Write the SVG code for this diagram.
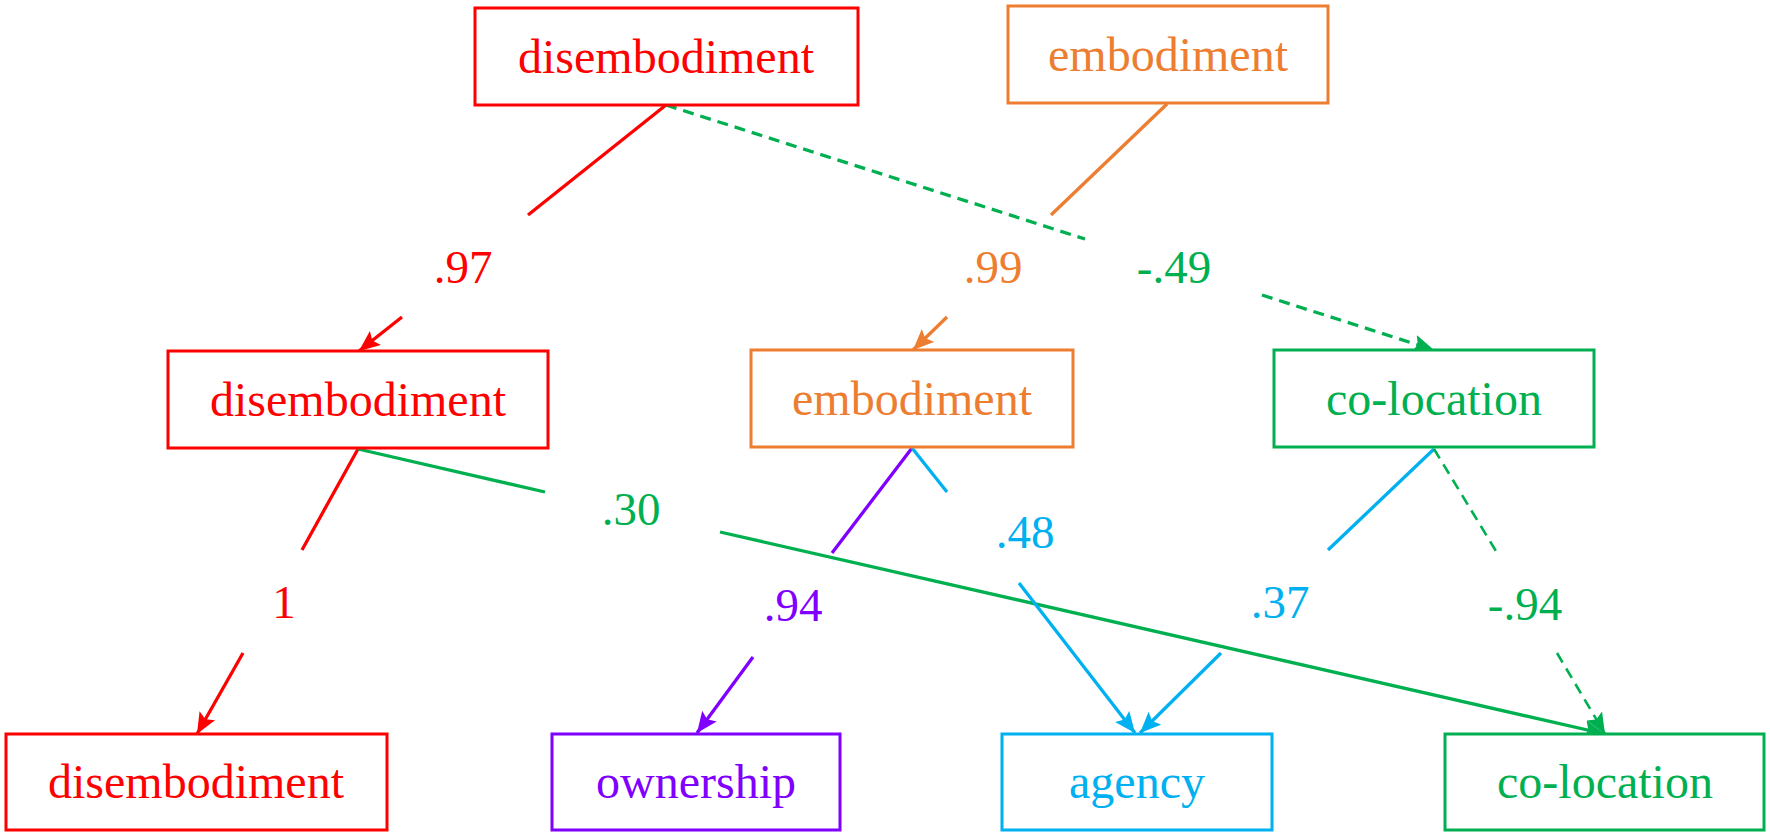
<svg xmlns="http://www.w3.org/2000/svg" width="1770" height="838" viewBox="0 0 1770 838">
<style>
text{font-family:"Liberation Serif","Times New Roman",serif;text-anchor:middle}
.n{font-size:48px}
.l{font-size:47px}
rect{fill:#fff;stroke-width:3}
line{stroke-width:3.3;fill:none}
.d{stroke-dasharray:11 7}
.red{stroke:#FF0000}.tred{fill:#FF0000}
.or{stroke:#ED7D31}.tor{fill:#ED7D31}
.gr{stroke:#00B050}.tgr{fill:#00B050}
.bl{stroke:#00B0F0}.tbl{fill:#00B0F0}
.pu{stroke:#7F00FF}.tpu{fill:#7F00FF}
</style>
<defs>
<marker id="aR" markerUnits="userSpaceOnUse" markerWidth="24" markerHeight="20" refX="21" refY="9" orient="auto"><path d="M0,0 L21,9 L0,18 L4,9 Z" fill="#FF0000"/></marker>
<marker id="aO" markerUnits="userSpaceOnUse" markerWidth="24" markerHeight="20" refX="21" refY="9" orient="auto"><path d="M0,0 L21,9 L0,18 L4,9 Z" fill="#ED7D31"/></marker>
<marker id="aG" markerUnits="userSpaceOnUse" markerWidth="24" markerHeight="20" refX="21" refY="9" orient="auto"><path d="M0,0 L21,9 L0,18 L4,9 Z" fill="#00B050"/></marker>
<marker id="aB" markerUnits="userSpaceOnUse" markerWidth="24" markerHeight="20" refX="21" refY="9" orient="auto"><path d="M0,0 L21,9 L0,18 L4,9 Z" fill="#00B0F0"/></marker>
<marker id="aP" markerUnits="userSpaceOnUse" markerWidth="24" markerHeight="20" refX="21" refY="9" orient="auto"><path d="M0,0 L21,9 L0,18 L4,9 Z" fill="#7F00FF"/></marker>
</defs>
<rect x="0" y="0" width="1770" height="838" style="stroke:none"/>
<g id="connectors">
<line class="red" x1="666" y1="105" x2="528" y2="215"/>
<line class="red" x1="402" y1="317" x2="359" y2="351" marker-end="url(#aR)"/>
<line class="gr d" x1="666" y1="105" x2="1085" y2="239"/>
<line class="gr d" x1="1262" y1="295" x2="1434" y2="350" marker-end="url(#aG)"/>
<line class="or" x1="1167" y1="104" x2="1051" y2="215"/>
<line class="or" x1="947" y1="317" x2="913" y2="350" marker-end="url(#aO)"/>
<line class="red" x1="358" y1="449" x2="302" y2="550"/>
<line class="red" x1="243" y1="653" x2="197" y2="734" marker-end="url(#aR)"/>
<line class="gr" x1="358" y1="449" x2="545" y2="492"/>
<line class="gr" x1="720" y1="532" x2="1605" y2="734" marker-end="url(#aG)"/>
<line class="pu" x1="912" y1="448" x2="832" y2="553"/>
<line class="pu" x1="753" y1="657" x2="697" y2="733" marker-end="url(#aP)"/>
<line class="bl" x1="912" y1="448" x2="947" y2="492"/>
<line class="bl" x1="1019" y1="583" x2="1135" y2="733" marker-end="url(#aB)"/>
<line class="bl" x1="1434" y1="449" x2="1328" y2="550"/>
<line class="bl" x1="1221" y1="653" x2="1140" y2="733" marker-end="url(#aB)"/>
<line class="gr d" style="stroke-width:2.6" x1="1434" y1="449" x2="1499" y2="556"/>
<line class="gr d" style="stroke-width:2.6" x1="1557" y1="653" x2="1605" y2="734" marker-end="url(#aG)"/>
</g>
<g id="labels">
<text class="l tred" x="463" y="283">.97</text>
<text class="l tor" x="993" y="283">.99</text>
<text class="l tgr" x="1174" y="283">-.49</text>
<text class="l tgr" x="631" y="525">.30</text>
<text class="l tred" x="284" y="618">1</text>
<text class="l tpu" x="793" y="621">.94</text>
<text class="l tbl" x="1025" y="548">.48</text>
<text class="l tbl" x="1280" y="618">.37</text>
<text class="l tgr" x="1525" y="620">-.94</text>
</g>
<g id="n-top-disembodiment"><rect class="red" x="475" y="8" width="383" height="97"/><text class="n tred" x="666" y="73">disembodiment</text></g>
<g id="n-top-embodiment"><rect class="or" x="1008" y="6" width="320" height="97"/><text class="n tor" x="1168" y="71">embodiment</text></g>
<g id="n-mid-disembodiment"><rect class="red" x="168" y="351" width="380" height="97"/><text class="n tred" x="358" y="416">disembodiment</text></g>
<g id="n-mid-embodiment"><rect class="or" x="751" y="350" width="322" height="97"/><text class="n tor" x="912" y="415">embodiment</text></g>
<g id="n-mid-colocation"><rect class="gr" x="1274" y="350" width="320" height="97"/><text class="n tgr" x="1434" y="415">co-location</text></g>
<g id="n-bot-disembodiment"><rect class="red" x="6" y="734" width="381" height="96"/><text class="n tred" x="196" y="798">disembodiment</text></g>
<g id="n-bot-ownership"><rect class="pu" x="552" y="734" width="288" height="96"/><text class="n tpu" x="696" y="798">ownership</text></g>
<g id="n-bot-agency"><rect class="bl" x="1002" y="734" width="270" height="96"/><text class="n tbl" x="1137" y="798">agency</text></g>
<g id="n-bot-colocation"><rect class="gr" x="1445" y="734" width="319" height="96"/><text class="n tgr" x="1605" y="798">co-location</text></g>
</svg>
